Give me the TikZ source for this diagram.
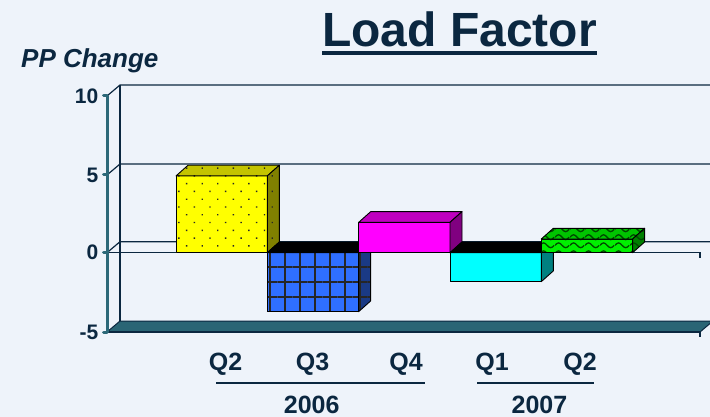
\documentclass[tikz,border=0pt]{standalone}
\usepackage{fontspec}
\setmainfont{Liberation Sans}
\usetikzlibrary{patterns.meta}
\definecolor{paper}{HTML}{EEF3FA}
\definecolor{ink}{HTML}{0B2740}
\definecolor{axisteal}{HTML}{2C6878}
\definecolor{floorteal}{HTML}{2A6575}
\definecolor{barYellow}{HTML}{FFFF00}
\definecolor{yellowTop}{HTML}{C4C400}
\definecolor{yellowSide}{HTML}{808000}
\definecolor{barBlue}{HTML}{2F6FFF}
\definecolor{blueSide}{HTML}{1A3A85}
\definecolor{barMagenta}{HTML}{FF00FF}
\definecolor{magentaTop}{HTML}{BF00BF}
\definecolor{magentaSide}{HTML}{800080}
\definecolor{barCyan}{HTML}{00FFFF}
\definecolor{cyanSide}{HTML}{008080}
\definecolor{barGreen}{HTML}{00F000}
\definecolor{greenTop}{HTML}{00C400}
\definecolor{greenSide}{HTML}{008000}
\definecolor{waveInk}{HTML}{004A00}

% wavy rows for the last bar
\tikzdeclarepattern{
  name=green waves,
  type=uncolored,
  bounding box={(0pt,0pt) and (15pt,8pt)},
  tile size={(15pt,8pt)},
  code={
    \draw[line width=1.4pt] (0pt,4pt) sin (3.75pt,6.6pt) cos (7.5pt,4pt)
      sin (11.25pt,1.4pt) cos (15pt,4pt);
  }
}

% chart geometry, in pixels
\newcommand{\zeroy}{252.7}
\newcommand{\unity}{15.73}
\newcommand{\barw}{91.3}
\newcommand{\depx}{12}
\newcommand{\depy}{10.7}

\tikzset{
  gridline/.style={draw=ink, line width=1.2pt},
  axisline/.style={draw=axisteal, line width=3pt, line cap=round},
  face/.style={draw=black, line width=0.9pt, line join=round},
  plainface/.style={face, fill=#1},
  dotface/.style={face, preaction={fill=#1},
    pattern={Dots[angle=45,distance=11pt,radius=1pt]}, pattern color=black!85},
  gridface/.style={face, preaction={fill=#1},
    pattern={Hatch[angle=0,distance=15pt,line width=2.4pt]}, pattern color=black!85},
  waveface/.style={face, preaction={fill=#1},
    pattern=green waves, pattern color=waveInk},
  ticklabel/.style={anchor=east, inner sep=0pt, text=ink,
    font=\fontsize{21}{24}\selectfont\bfseries},
  qlabel/.style={anchor=base, inner sep=0pt, text=ink,
    font=\fontsize{25}{30}\selectfont\bfseries},
  yearline/.style={draw=ink, line width=2pt}
}

% one 3-D bar: left x, value, front, top, side
\newcommand{\cuboid}[5]{%
  \pgfmathsetmacro\ya{min(\zeroy,\zeroy-\unity*#2)}%
  \pgfmathsetmacro\yb{max(\zeroy,\zeroy-\unity*#2)}%
  \pgfmathsetmacro\xb{#1+\barw}%
  \path[#3] (#1,\ya) rectangle (\xb,\yb);
  \path[#4] (#1,\ya) -- ++(\depx,-\depy) -- ++(\barw,0) -- (\xb,\ya) -- cycle;
  \path[#5] (\xb,\ya) -- ++(\depx,-\depy) -- ++(0,\yb-\ya) -- (\xb,\yb) -- cycle;
}

\begin{document}
\begin{tikzpicture}[x=1pt,y=-1pt]
  \clip (0,0) rectangle (710,417);
  \fill[paper] (0,0) rectangle (710,417);

  % back wall and side wall
  \foreach \y in {96,175,252.7}
    \draw[gridline] (107,\y) -- ++(13,-11) -- (713,\y-11);
  \draw[gridline] (120,85) -- (120,321);

  % floor slab
  \filldraw[fill=floorteal, draw=ink, line width=1pt]
    (107,332) -- (120,321) -- (713,321) -- (700,332) -- cycle;
  \draw[gridline] (107,332) -- (700,332) -- (700,337);

  % front zero line
  \draw[gridline] (107,\zeroy) -- (700,\zeroy) -- (700,\zeroy+5);

  % bars
  \cuboid{176}{4.88}{dotface=barYellow}{dotface=yellowTop}{dotface=yellowSide}
  \cuboid{267.3}{-3.75}{gridface=barBlue}{plainface=black}{gridface=blueSide}
  \cuboid{358.7}{1.93}{plainface=barMagenta}{plainface=magentaTop}{plainface=magentaSide}
  \cuboid{450}{-1.84}{plainface=barCyan}{plainface=black}{plainface=cyanSide}
  \cuboid{541.3}{0.87}{waveface=barGreen}{waveface=greenTop}{waveface=greenSide}

  % value axis
  \draw[axisline] (107,96) -- (107,332);
  \foreach \v/\y [count=\i] in {10/96,5/175,0/252.7,-5/332} {
    \draw[axisline] (103.5,\y) -- (107,\y);
    \node[ticklabel] (ytick\i) at (98.5,\y) {\v};
  }

  % titles
  \node[anchor=base west, inner sep=0pt, text=ink,
    font=\fontsize{48}{56}\selectfont\bfseries] (title) at (322,47) {Load Factor};
  \draw[ink, line width=4pt] ([yshift=-6pt]title.base west) -- ([yshift=-6pt]title.base east);
  \node[anchor=base west, inner sep=0pt, text=ink,
    font=\fontsize{26}{30}\selectfont\bfseries\itshape] (unit) at (21,68) {PP Change};

  % category labels
  \foreach \q/\x [count=\i] in {Q2/225.5,Q3/312.5,Q4/406,Q1/492,Q2/580}
    \node[qlabel] (quarter\i) at (\x,370.7) {\q};
  \draw[yearline] (216,383.3) -- (425,383.3);
  \draw[yearline] (477,383.3) -- (594,383.3);
  \node[qlabel] (year6) at (311.7,413) {2006};
  \node[qlabel] (year7) at (539.5,413) {2007};
\end{tikzpicture}
\end{document}
